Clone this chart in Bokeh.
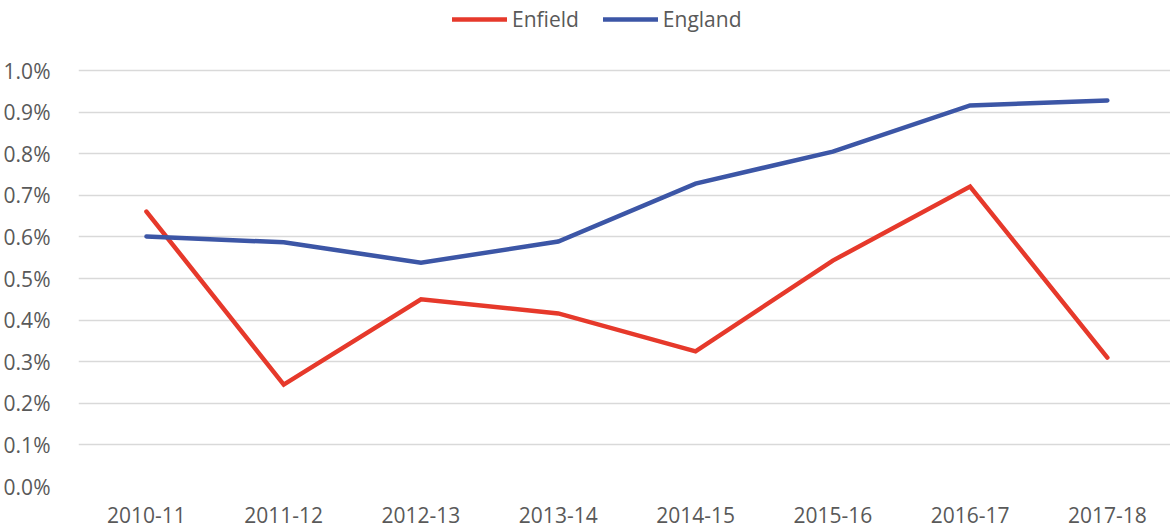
from bokeh.plotting import figure
from bokeh.models import Range1d, FixedTicker, PrintfTickFormatter, Legend, LegendItem
from bokeh.embed import file_html
from bokeh.resources import INLINE

categories = ["2010-11", "2011-12", "2012-13", "2013-14", "2014-15", "2015-16", "2016-17", "2017-18"]
enfield = [0.661, 0.245, 0.450, 0.416, 0.325, 0.543, 0.721, 0.310]
england = [0.601, 0.587, 0.538, 0.589, 0.728, 0.805, 0.916, 0.928]
y_ticks = [0.0, 0.1, 0.2, 0.3, 0.4, 0.5, 0.6, 0.7, 0.8, 0.9, 1.0]

xs = list(range(len(categories)))
FONT = "Open Sans"
TXT = "#595959"

p = figure(width=1170, height=529, output_backend="svg", toolbar_location=None,
           x_range=Range1d(-0.495, 7.46), y_range=Range1d(0, 1.1683),
           min_border_left=77, min_border_right=0, min_border_top=0, min_border_bottom=43)
p.outline_line_color = None
p.background_fill_color = "white"
p.border_fill_color = "white"

p.xgrid.visible = False
p.ygrid.grid_line_color = "#d9d9d9"
p.ygrid.grid_line_width = 1.5

p.yaxis.ticker = FixedTicker(ticks=y_ticks)
p.yaxis.formatter = PrintfTickFormatter(format="%.1f%%")
p.xaxis.ticker = FixedTicker(ticks=xs)
p.xaxis.major_label_overrides = {i: c for i, c in enumerate(categories)}

for ax in (p.xaxis[0], p.yaxis[0]):
    ax.axis_line_color = None
    ax.major_tick_line_color = None
    ax.minor_tick_line_color = None
    ax.major_label_text_font = FONT
    ax.major_label_text_font_size = "21px"
    ax.major_label_text_color = TXT
p.yaxis.major_label_standoff = 22
p.xaxis.major_label_standoff = 14

r1 = p.line(xs, enfield, line_color="#e6392b", line_width=4.5, line_join="miter", line_cap="round")
r2 = p.line(xs, england, line_color="#3c56a6", line_width=4.5, line_join="miter", line_cap="round")

legend = Legend(items=[LegendItem(label="Enfield", renderers=[r1]),
                       LegendItem(label="England", renderers=[r2])],
                orientation="horizontal", location=(374, 453),
                glyph_width=55, glyph_height=20, label_standoff=5, spacing=24,
                padding=0, margin=0, border_line_alpha=0, background_fill_alpha=0,
                label_text_font=FONT, label_text_font_size="21px", label_text_color=TXT)
p.add_layout(legend, "center")

open("out.html", "w").write(file_html(p, INLINE))
